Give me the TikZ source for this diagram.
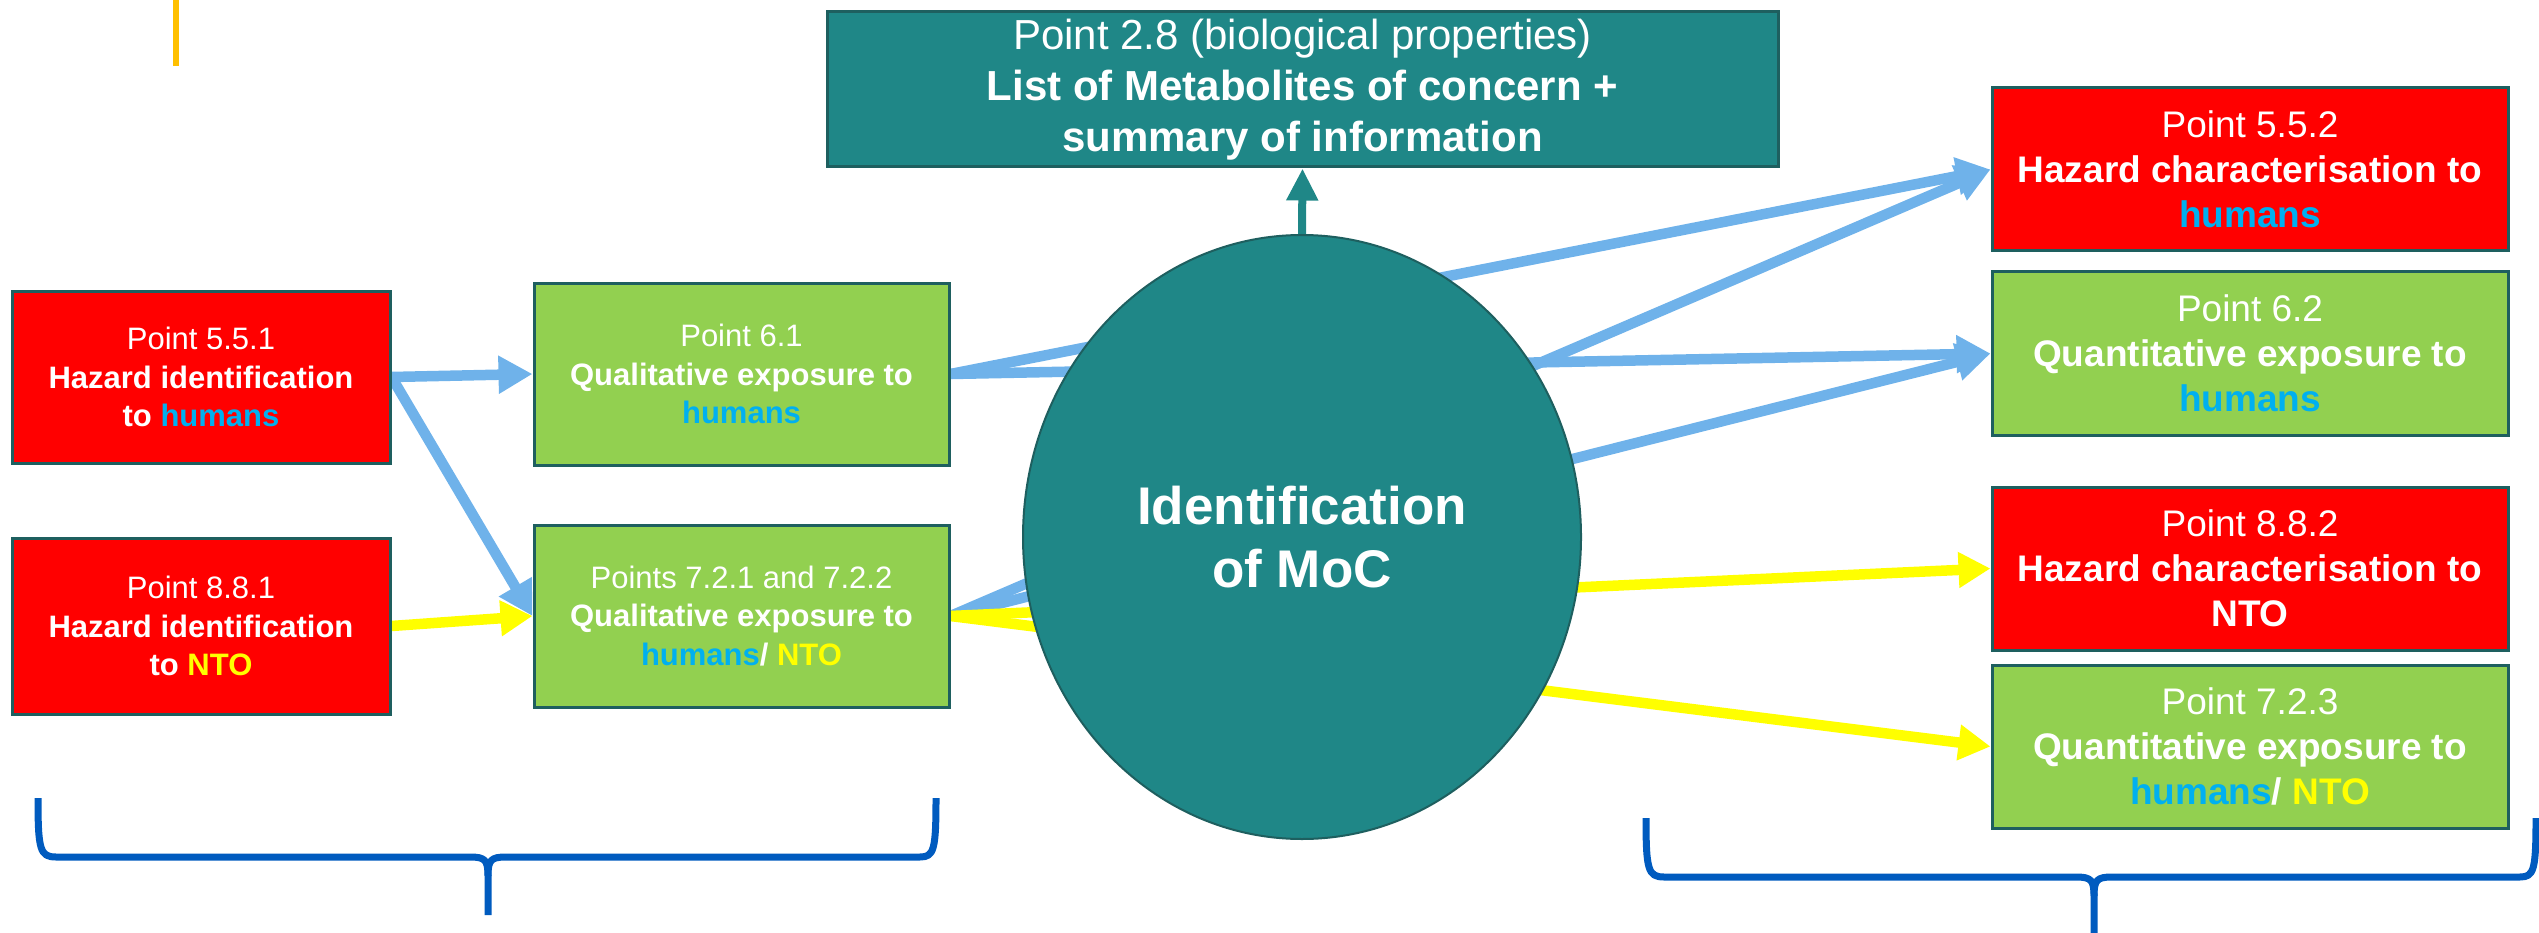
\documentclass[tikz,border=0pt]{standalone}
\usepackage{fontspec}
\setmainfont{Liberation Sans}
\usetikzlibrary{arrows.meta,shapes.geometric}
\pgfdeclarelayer{bg}
\pgfsetlayers{bg,main}
\definecolor{tealc}{HTML}{1F8787}
\definecolor{tealdark}{HTML}{1E5F5F}
\definecolor{redc}{HTML}{FF0000}
\definecolor{greenc}{HTML}{92D050}
\definecolor{bluearrow}{HTML}{6FB2EA}
\definecolor{humanc}{HTML}{00B0F0}
\definecolor{yellowc}{HTML}{FFFF00}
\definecolor{bracec}{HTML}{005BBF}
\definecolor{orangec}{HTML}{FFC000}
\newcommand{\hum}{\textcolor{humanc}{humans}}
\newcommand{\nto}{\textcolor{yellowc}{NTO}}
\begin{document}
\begin{tikzpicture}[x=1pt,y=-1pt,
  box/.style={rectangle, draw=tealdark, line width=3pt, inner sep=0pt, align=center, text=white},
  smallbox/.style={box, minimum width=378pt, font=\fontsize{31}{38.5}\selectfont},
  midbox/.style={box, minimum width=415pt, minimum height=182pt, fill=greenc, font=\fontsize{31}{38.5}\selectfont},
  rightbox/.style={box, minimum width=516pt, minimum height=163pt, font=\fontsize{37}{45}\selectfont},
  barrow/.style={draw=bluearrow, line width=10.5pt, -{Triangle[length=34pt,width=36pt]}},
  yarrow/.style={draw=yellowc, line width=10.5pt, -{Triangle[length=32pt,width=34pt]}},
  tarrow/.style={draw=tealc, line width=8pt, -{Triangle[length=32pt,width=30pt]}},
  bracestyle/.style={draw=bracec, line width=7pt, line join=round}
]
\useasboundingbox (0,0) rectangle (2539,933);
% decorative orange line
\draw[orangec, line width=6pt] (176,0) -- (176,66);

% top box
\node[box, fill=tealc, minimum width=951pt, minimum height=155pt, font=\fontsize{42}{51}\selectfont] (top) at (1302.5,89.5)
  {Point 2.8 (biological properties)\\ \textbf{List of Metabolites of concern +}\\ \textbf{summary of information}};

% ellipse
\node[ellipse, draw=tealdark, line width=2pt, fill=tealc, minimum width=558pt, minimum height=604pt, inner sep=0pt,
  text=white, align=center, font=\fontsize{53}{63}\selectfont\bfseries] (ell) at (1302,537) {Identification\\ of MoC};

% left column
\node[smallbox, fill=redc, minimum height=172pt] (n551) at (201,377)
  {Point 5.5.1\\ \textbf{Hazard identification}\\ \textbf{to \hum}};
\node[smallbox, fill=redc, minimum height=176pt] (n881) at (201,626)
  {Point 8.8.1\\ \textbf{Hazard identification}\\ \textbf{to \nto}};

% middle column
\node[midbox] (n61) at (741.5,374)
  {Point 6.1\\ \textbf{Qualitative exposure to}\\ \textbf{\hum}};
\node[midbox] (n72) at (741.5,616)
  {Points 7.2.1 and 7.2.2\\ \textbf{Qualitative exposure to}\\ \textbf{\hum/ \nto}};

% right column
\node[rightbox, fill=redc] (n552) at (2250,169.5)
  {Point 5.5.2\\ \textbf{Hazard characterisation to}\\ \textbf{\hum}};
\node[rightbox, fill=greenc] (n62) at (2250,353.5)
  {Point 6.2\\ \textbf{Quantitative exposure to}\\ \textbf{\hum}};
\node[rightbox, fill=redc] (n882) at (2250,568.5)
  {Point 8.8.2\\ \textbf{Hazard characterisation to}\\ \textbf{NTO}};
\node[rightbox, fill=greenc] (n723) at (2250,746.5)
  {Point 7.2.3\\ \textbf{Quantitative exposure to}\\ \textbf{\hum/ \nto}};

% connectors (behind the shapes)
\begin{pgfonlayer}{bg}
\draw[barrow] (n551.east) -- (n61.west);
\draw[barrow] (n551.east) -- (n72.west);
\draw[yarrow] (n881.east) -- (n72.west);
\draw[barrow] (n61.east) -- (n552.west);
\draw[barrow] (n61.east) -- (n62.west);
\draw[barrow] (n72.east) -- (n552.west);
\draw[barrow] (n72.east) -- (n62.west);
\draw[yarrow] (n72.east) -- (n882.west);
\draw[yarrow] (n72.east) -- (n723.west);
\draw[tarrow] (ell.north) -- (top.south);
\end{pgfonlayer}

% braces
\draw[bracestyle] (38,798) .. controls (38,850) and (40,857) .. (56,857) -- (470,857)
  .. controls (485,857) and (488,860) .. (488,876) -- (488,915);
\draw[bracestyle] (488,876) .. controls (488,860) and (491,857) .. (506,857) -- (920,857)
  .. controls (934,857) and (936,850) .. (936,798);
\draw[bracestyle] (1646,818) .. controls (1646,870) and (1648,877) .. (1664,877) -- (2076,877)
  .. controls (2091,877) and (2094,880) .. (2094,896) -- (2094,940);
\draw[bracestyle] (2094,896) .. controls (2094,880) and (2097,877) .. (2112,877) -- (2520,877)
  .. controls (2534,877) and (2536,870) .. (2536,818);
\end{tikzpicture}
\end{document}
